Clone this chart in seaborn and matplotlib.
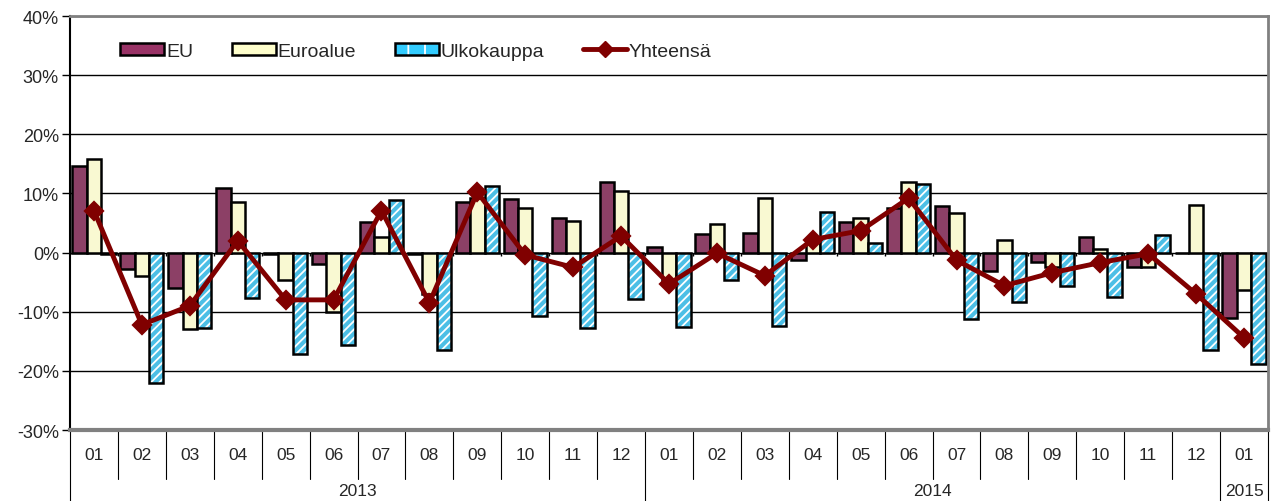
import numpy as np
import pandas as pd
import matplotlib.pyplot as plt
import matplotlib.transforms as mtransforms
from matplotlib.patches import Patch, Rectangle
from matplotlib.lines import Line2D
from matplotlib.ticker import FuncFormatter
import seaborn as sns

# kuukaudet ja vuodet x-akselille
kuukaudet = ['01', '02', '03', '04', '05', '06', '07', '08', '09', '10', '11', '12',
             '01', '02', '03', '04', '05', '06', '07', '08', '09', '10', '11', '12',
             '01']
vuodet = ['2013'] * 12 + ['2014'] * 12 + ['2015']

# muutos % (luettu kuvasta)
eu = [14.7, -2.8, -6.0, 10.9, -0.2, -1.9, 5.1, -0.2, 8.5, 9.0, 5.8, 11.9,
      0.9, 3.1, 3.3, -1.3, 5.2, 7.5, 7.8, -3.1, -1.6, 2.6, -2.5, 0.0, -11.1]
euroalue = [15.8, -3.9, -13.0, 8.5, -4.6, -10.1, 2.6, -7.0, 9.3, 7.5, 5.3, 10.4,
            -4.9, 4.8, 9.2, 2.3, 5.8, 12.0, 6.7, 2.2, -2.5, 0.6, -2.5, 8.1, -6.4]
ulkokauppa = [-0.3, -22.1, -12.8, -7.7, -17.2, -15.6, 8.9, -16.5, 11.3, -10.7, -12.7, -7.8,
              -12.6, -4.7, -12.4, 6.8, 1.6, 11.6, -11.3, -8.3, -5.7, -7.5, 2.9, -16.4, -18.9]
yhteensa = [7.1, -12.2, -9.0, 2.0, -8.0, -8.0, 7.1, -8.5, 10.2, -0.4, -2.5, 2.8,
            -5.3, -0.1, -3.9, 2.2, 3.7, 9.2, -1.3, -5.6, -3.4, -1.7, -0.2, -7.0, -14.4]

sarjat = ['EU', 'Euroalue', 'Ulkokauppa']
varit = ['#993366', '#FFFFCC', '#33CCFF']
viiva_vari = '#800000'

kk_tunnus = [f'{v}-{k}' for v, k in zip(vuodet, kuukaudet)]
df = pd.DataFrame({
    'kk': kk_tunnus * 3,
    'sarja': ['EU'] * 25 + ['Euroalue'] * 25 + ['Ulkokauppa'] * 25,
    'arvo': eu + euroalue + ulkokauppa,
})

sns.set_style('white')
plt.rcParams['font.family'] = ['Liberation Sans', 'DejaVu Sans']
plt.rcParams['hatch.linewidth'] = 1.3

fig = plt.figure(figsize=(12.76, 5.02), dpi=100)
ax = fig.add_axes([70 / 1276, 1 - 431 / 502, 1198 / 1276, 414 / 502])

sns.barplot(data=df, x='kk', y='arvo', hue='sarja', order=kk_tunnus, hue_order=sarjat,
            palette=varit, width=0.9, gap=0, errorbar=None, edgecolor='black',
            linewidth=1.8, legend=False, ax=ax)

# ulkokauppa: syaani pohja, valkoinen viivoitus, musta reuna
for p in ax.containers[2]:
    p.set_hatch('////')
    p.set_edgecolor('white')
    p.set_linewidth(0)
    ax.add_patch(Rectangle(p.get_xy(), p.get_width(), p.get_height(), fill=False,
                           edgecolor='black', linewidth=1.8, zorder=p.get_zorder() + 0.1))

sns.pointplot(x=kk_tunnus, y=yhteensa, order=kk_tunnus, color=viiva_vari, marker='D',
              markersize=8, linewidth=3.5, errorbar=None, ax=ax)
for ln in ax.lines:
    ln.set_zorder(6)

ax.set_ylim(-30, 40)
ax.set_xlim(-0.5, len(kk_tunnus) - 0.5)
ax.set_yticks(range(-30, 41, 10))
ax.yaxis.set_major_formatter(FuncFormatter(lambda v, _: f'{v:.0f}%'))
ax.yaxis.grid(True, color='black', linewidth=1)
ax.set_axisbelow(True)
ax.tick_params(axis='y', direction='out', length=6, width=1, color='black',
               labelsize=13, pad=2, left=True)
ax.set_xticks([])
ax.set_xlabel('')
ax.set_ylabel('')

for s in ['top', 'right']:
    ax.spines[s].set_color('#808080')
    ax.spines[s].set_linewidth(2)
ax.spines['bottom'].set_color('#808080')
ax.spines['bottom'].set_linewidth(3)
ax.spines['left'].set_color('black')
ax.spines['left'].set_linewidth(1.5)

# pienet väkäset nollatasolle
rajat = np.arange(len(kk_tunnus) + 1) - 0.5
ax.vlines(rajat[1:-1], -0.6, 0, color='black', linewidth=1, zorder=3)

# kaksitasoinen x-akseli
trans = mtransforms.blended_transform_factory(ax.transData, ax.transAxes)
for i, k in enumerate(kuukaudet):
    ax.text(i, -0.06, k, transform=trans, ha='center', va='center', fontsize=12.5)
vuosi_rajat = [-0.5]
for i in range(1, len(vuodet)):
    if vuodet[i] != vuodet[i - 1]:
        vuosi_rajat.append(i - 0.5)
vuosi_rajat.append(len(vuodet) - 0.5)
for r in rajat:
    pit = -0.172 if r in vuosi_rajat else -0.118
    ax.plot([r, r], [0, pit], transform=trans, color='black', linewidth=0.8, clip_on=False)
for a, b in zip(vuosi_rajat[:-1], vuosi_rajat[1:]):
    ax.text((a + b) / 2, -0.147, vuodet[int(a + 0.5)], transform=trans,
            ha='center', va='center', fontsize=12.5)

# selite
kahvat = [
    Patch(facecolor=varit[0], edgecolor='black', linewidth=1.8),
    Patch(facecolor=varit[1], edgecolor='black', linewidth=1.8),
    (Patch(facecolor=varit[2], edgecolor='white', hatch='|', linewidth=0),
     Patch(facecolor='none', edgecolor='black', linewidth=1.8)),
    Line2D([], [], color=viiva_vari, linewidth=3.5, marker='D', markersize=8),
]
ax.legend(kahvat, sarjat + ['Yhteensä'], loc='center left', bbox_to_anchor=(0.029, 0.915),
          ncol=4, frameon=False, fontsize=14, handlelength=2.25, handleheight=0.6,
          handletextpad=0.1, columnspacing=2.0, borderpad=0.3)

plt.savefig('out.png', dpi=100)
